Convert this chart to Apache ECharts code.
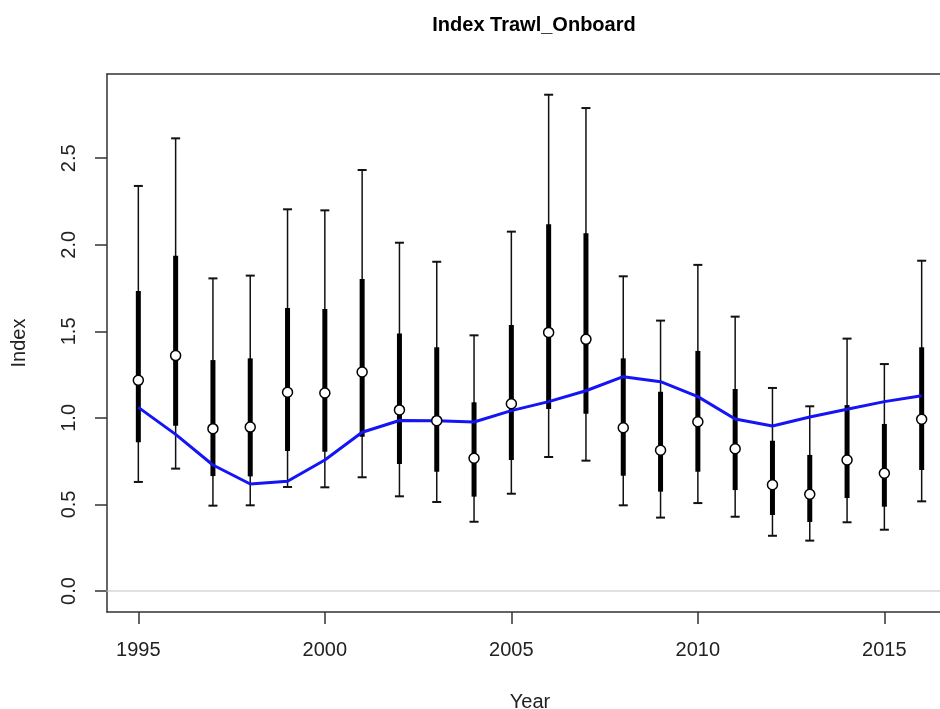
<!DOCTYPE html>
<html>
<head>
<meta charset="utf-8">
<script src="https://cdn.jsdelivr.net/npm/echarts@6/dist/echarts.min.js"></script>
<style>
html,body{margin:0;padding:0;background:#fff;overflow:hidden;width:940px;height:709px;}
#chart{width:970px;height:709px;}
</style>
</head>
<body>
<div id="chart"></div>
<script>
var years = [1995,1996,1997,1998,1999,2000,2001,2002,2003,2004,2005,2006,2007,2008,2009,2010,2011,2012,2013,2014,2015,2016];
var obsIndex = [1.217,1.36,0.938,0.947,1.148,1.144,1.265,1.046,0.984,0.767,1.082,1.494,1.454,0.943,0.813,0.978,0.822,0.614,0.559,0.757,0.680,0.992];
var upperOuter = [2.34,2.615,1.806,1.822,2.205,2.199,2.432,2.012,1.902,1.477,2.076,2.867,2.790,1.818,1.562,1.884,1.585,1.173,1.067,1.458,1.311,1.908];
var upperInner = [1.733,1.937,1.334,1.344,1.635,1.629,1.802,1.487,1.408,1.090,1.537,2.118,2.066,1.344,1.151,1.387,1.167,0.868,0.786,1.074,0.965,1.408];
var lowerInner = [0.859,0.955,0.664,0.662,0.809,0.805,0.891,0.734,0.689,0.545,0.757,1.051,1.024,0.666,0.574,0.689,0.583,0.439,0.399,0.537,0.487,0.699];
var lowerOuter = [0.630,0.707,0.493,0.495,0.601,0.599,0.657,0.547,0.514,0.400,0.562,0.774,0.753,0.495,0.424,0.508,0.429,0.319,0.291,0.397,0.354,0.518];
var expIndex = [1.061,0.905,0.728,0.618,0.634,0.757,0.917,0.985,0.984,0.976,1.042,1.094,1.157,1.238,1.209,1.123,0.994,0.953,1.005,1.050,1.094,1.128];
var xTicks = [1995,2000,2005,2010,2015];
var yTicks = [0,0.5,1,1.5,2,2.5];
var yTickLabels = ['0.0','0.5','1.0','1.5','2.0','2.5'];
var titleText = 'Index Trawl_Onboard';

var barData = years.map(function(y,i){return [y, lowerOuter[i], lowerInner[i], upperInner[i], upperOuter[i]];});
var pointData = years.map(function(y,i){return [y, obsIndex[i]];});
var lineData = years.map(function(y,i){return [y, expIndex[i]];});

var FONT = '"Liberation Sans", Arial, Helvetica, sans-serif';
var XMIN = 1994.16, XMAX = 2016.84, YMIN = -0.1213, YMAX = 2.9867;
function boxLine(){return {show:true,onZero:false,lineStyle:{color:'#333',width:1.5}};}
var chart = echarts.init(document.getElementById('chart'), null, {renderer:'canvas'});
chart.setOption({
  animation:false,
  backgroundColor:'#fff',
  title:{text:titleText,left:529,top:10,textAlign:'center',
    textStyle:{fontFamily:FONT,fontWeight:'bold',fontSize:20,color:'#000'}},
  grid:{left:107,top:74,width:846,height:538,show:false,containLabel:false,outerBoundsMode:'none'},
  xAxis:[{type:'value',position:'bottom',min:XMIN,max:XMAX,
    name:'Year',nameLocation:'middle',nameGap:80,
    nameTextStyle:{fontFamily:FONT,fontSize:20,color:'#222'},
    splitLine:{show:false},axisLine:boxLine(),
    axisTick:{show:true,length:12,customValues:xTicks,lineStyle:{color:'#333',width:1.5}},
    axisLabel:{customValues:xTicks,margin:28,fontFamily:FONT,fontSize:20,color:'#222',
      formatter:function(v){return String(Math.round(v));}}
  },{type:'value',position:'top',min:XMIN,max:XMAX,splitLine:{show:false},axisLine:boxLine(),
    axisTick:{show:false},axisLabel:{show:false}}],
  yAxis:[{type:'value',position:'left',min:YMIN,max:YMAX,
    name:'Index',nameLocation:'middle',nameGap:78,nameRotate:90,
    nameTextStyle:{fontFamily:FONT,fontSize:20,color:'#222'},
    splitLine:{show:false},axisLine:boxLine(),
    axisTick:{show:true,length:12,customValues:yTicks,lineStyle:{color:'#333',width:1.5}},
    axisLabel:{customValues:yTicks,rotate:90,margin:28,fontFamily:FONT,fontSize:20,color:'#222',
      formatter:function(v){var i=yTicks.indexOf(Math.round(v*10)/10);return i>=0?yTickLabels[i]:v.toFixed(1);}}
  },{type:'value',position:'right',min:YMIN,max:YMAX,splitLine:{show:false},axisLine:boxLine(),
    axisTick:{show:false},axisLabel:{show:false}}],
  series:[
    {type:'line',data:[[1990,0],[2020,0]],symbol:'none',silent:true,z:1,
      lineStyle:{color:'#c4c4c4',width:1.2}},
    {type:'custom',z:2,data:barData,
      renderItem:function(params,api){
        var x=api.value(0);
        var pLo=api.coord([x,api.value(1)]);
        var pLi=api.coord([x,api.value(2)]);
        var pUi=api.coord([x,api.value(3)]);
        var pHi=api.coord([x,api.value(4)]);
        var cx=pLo[0], hw=4.5;
        var thin={stroke:'#111',lineWidth:1.5};
        return {type:'group',children:[
          {type:'line',shape:{x1:cx,y1:pLo[1],x2:cx,y2:pHi[1]},style:thin},
          {type:'line',shape:{x1:cx-hw,y1:pLo[1],x2:cx+hw,y2:pLo[1]},style:{stroke:'#111',lineWidth:2}},
          {type:'line',shape:{x1:cx-hw,y1:pHi[1],x2:cx+hw,y2:pHi[1]},style:{stroke:'#111',lineWidth:2}},
          {type:'line',shape:{x1:cx,y1:pLi[1],x2:cx,y2:pUi[1]},style:{stroke:'#000',lineWidth:5}}
        ]};
      }},
    {type:'line',z:3,data:lineData,symbol:'none',smooth:false,
      lineStyle:{color:'#1414f5',width:3}},
    {type:'scatter',z:4,data:pointData,symbol:'circle',symbolSize:10,
      itemStyle:{color:'#fff',opacity:1,borderColor:'#000',borderWidth:1.5}}
  ]
});
</script>
</body>
</html>
